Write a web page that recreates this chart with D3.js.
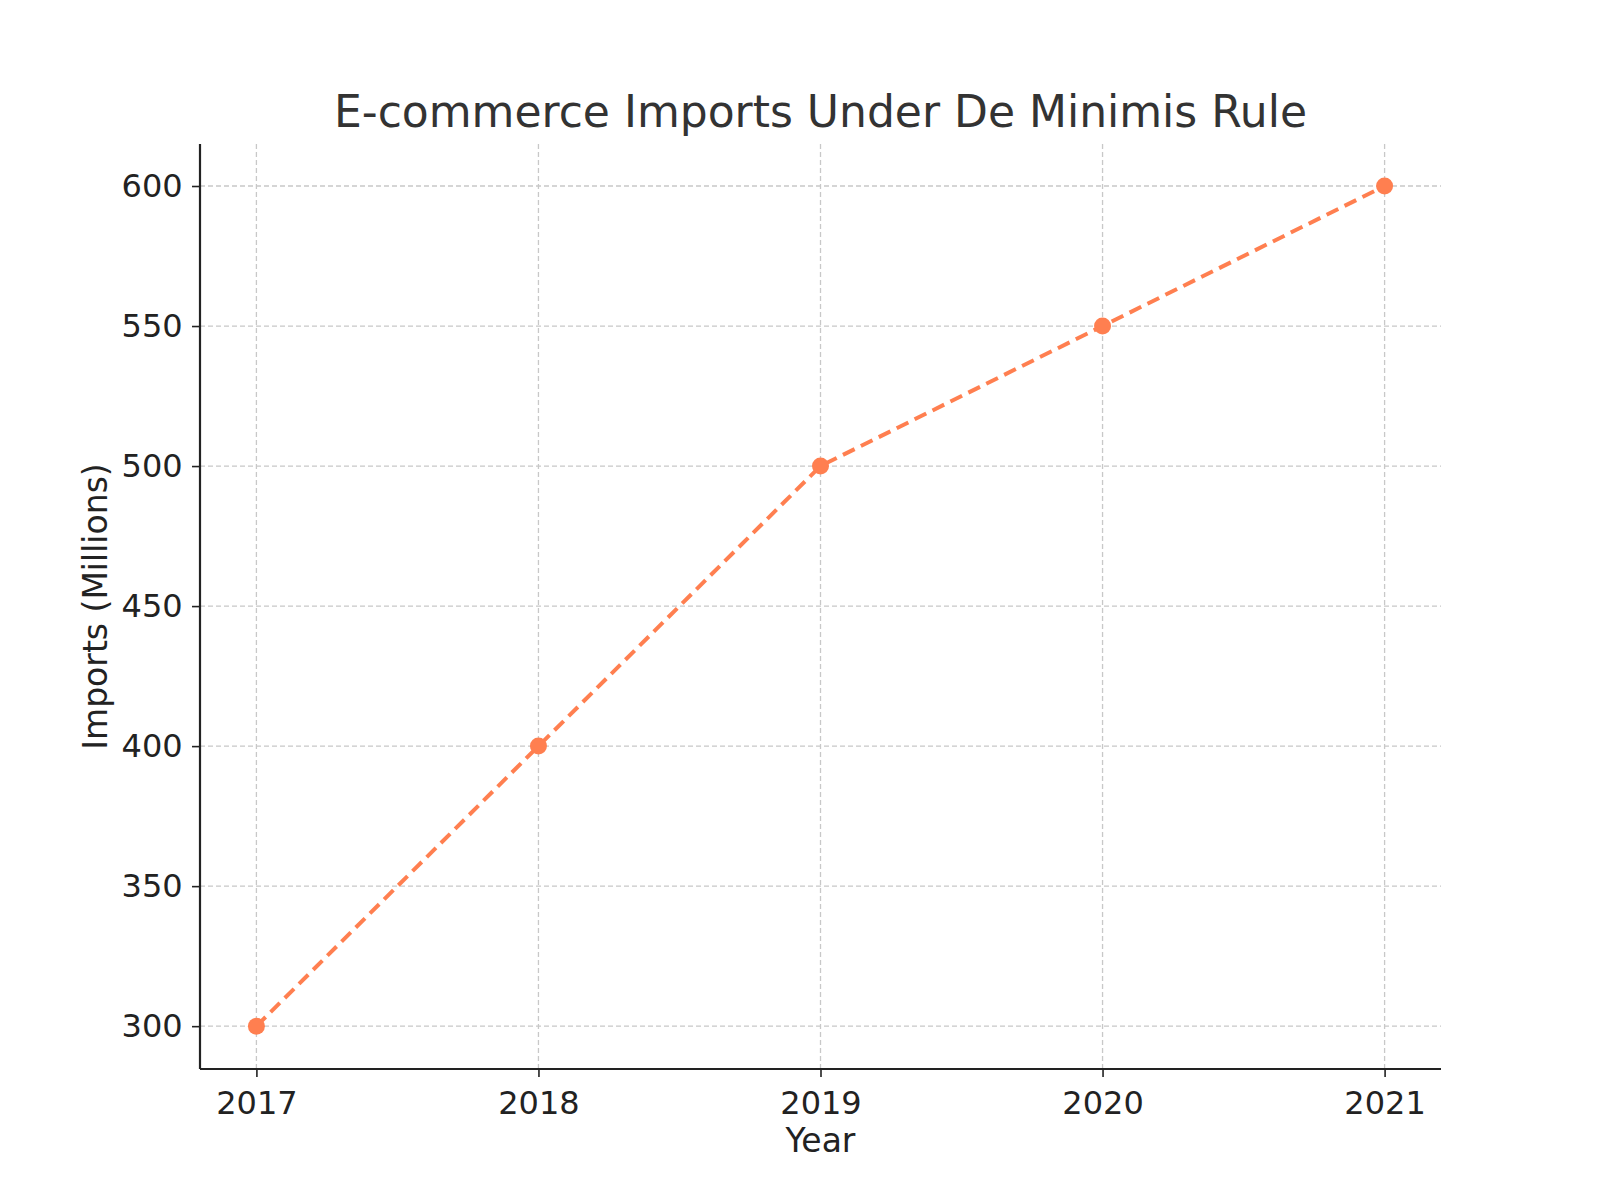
<!DOCTYPE html>
<html><head><meta charset="utf-8">
<script src="https://cdn.jsdelivr.net/npm/d3@7"></script>
<style>body{margin:0;background:#fff}</style></head>
<body><svg id="c" width="1600" height="1200"></svg>
<script>
const years = [2017, 2018, 2019, 2020, 2021];
const imports = [300, 400, 500, 550, 600];
const yTicks = [300, 350, 400, 450, 500, 550, 600];

const svg = d3.select("#c");
const L = 200, R = 1441, T = 144, B = 1069;
const x = d3.scaleLinear().domain([2016.8, 2021.2]).range([L, R]);
const y = d3.scaleLinear().domain([284.7, 615]).range([B, T]);
const font = "DejaVu Sans, sans-serif";

svg.append("g").selectAll("line").data(years).join("line")
  .attr("x1", d => x(d)).attr("x2", d => x(d)).attr("y1", T).attr("y2", B)
  .attr("stroke", "#c8c8c8").attr("stroke-width", 1.3).attr("stroke-dasharray", "5,3");
svg.append("g").selectAll("line").data(yTicks).join("line")
  .attr("x1", L).attr("x2", R).attr("y1", d => y(d)).attr("y2", d => y(d))
  .attr("stroke", "#c8c8c8").attr("stroke-width", 1.3).attr("stroke-dasharray", "5,3");

const xa = svg.append("g").attr("transform", `translate(0,${B})`)
  .call(d3.axisBottom(x).tickValues(years).tickFormat(d3.format("d")).tickSize(8).tickSizeOuter(0));
const ya = svg.append("g").attr("transform", `translate(${L},0)`)
  .call(d3.axisLeft(y).tickValues(yTicks).tickSize(8).tickSizeOuter(0));
[xa, ya].forEach(a => {
  a.select(".domain").attr("stroke", "#222").attr("stroke-width", 2.2);
  a.selectAll(".tick line").attr("stroke", "#222").attr("stroke-width", 1.6);
  a.selectAll("text").attr("font-family", font).attr("font-size", 32).attr("fill", "#222");
});
xa.selectAll("text").attr("dy", "1.05em");
ya.selectAll("text").attr("dx", "-0.2em");
xa.select(".domain").attr("d", `M${L},0H${R}`);
ya.select(".domain").attr("d", `M0,${B}V${T}`);

svg.append("path").datum(years.map((d, i) => [d, imports[i]]))
  .attr("d", d3.line().x(d => x(d[0])).y(d => y(d[1])))
  .attr("fill", "none").attr("stroke", "#FF7F50").attr("stroke-width", 4)
  .attr("stroke-dasharray", "13,7");
svg.append("g").selectAll("circle").data(years).join("circle")
  .attr("cx", d => x(d)).attr("cy", (d, i) => y(imports[i])).attr("r", 8.5)
  .attr("fill", "#FF7F50");

svg.append("text").attr("x", (L + R) / 2).attr("y", 127).attr("text-anchor", "middle")
  .attr("font-family", font).attr("font-size", 44).attr("fill", "#333")
  .text("E-commerce Imports Under De Minimis Rule");
svg.append("text").attr("x", (L + R) / 2).attr("y", 1152).attr("text-anchor", "middle")
  .attr("font-family", font).attr("font-size", 33).attr("fill", "#222").text("Year");
svg.append("text").attr("transform", `translate(107,${(T + B) / 2}) rotate(-90)`)
  .attr("text-anchor", "middle").attr("font-family", font).attr("font-size", 33)
  .attr("fill", "#222").text("Imports (Millions)");
</script></body></html>
